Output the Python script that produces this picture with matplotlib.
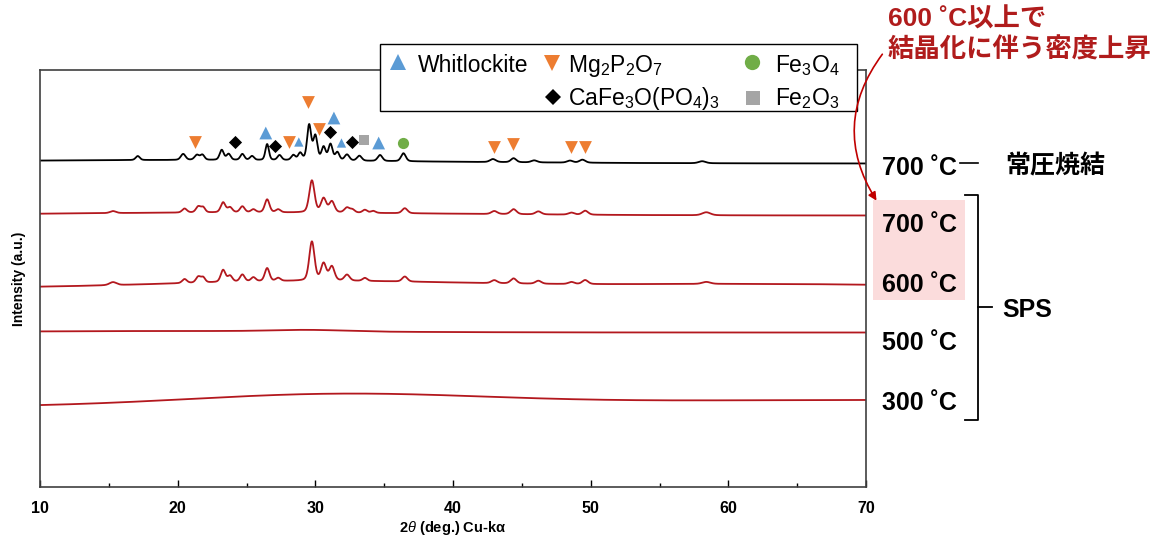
import numpy as np
import matplotlib
matplotlib.use('Agg')
import matplotlib.pyplot as plt
from matplotlib.lines import Line2D
from matplotlib.patches import Rectangle, FancyArrowPatch
from matplotlib.ticker import MultipleLocator

plt.rcParams['font.family'] = ['Liberation Sans', 'Noto Sans CJK JP', 'DejaVu Sans']
plt.rcParams['mathtext.fontset'] = 'custom'
plt.rcParams['mathtext.rm'] = 'Liberation Sans'
plt.rcParams['mathtext.it'] = 'Liberation Sans:italic'
plt.rcParams['mathtext.bf'] = 'Liberation Sans:bold'
plt.rcParams['mathtext.default'] = 'regular'

# XRD patterns, peaks as (2theta, height, fwhm), humps as (2theta, height, fwhm)
black_base = 323.5
black_humps = [(20, 3.5, 40)]
black_peaks = [(17.1, 4, 0.35), (20.4, 6, 0.4), (21.4, 5, 0.4), (21.8, 5, 0.35),
               (23.2, 10, 0.35), (23.7, 6, 0.35), (24.7, 6, 0.35), (25.4, 4, 0.35),
               (26.5, 16, 0.3), (27.4, 5, 0.35), (28.4, 5, 0.35), (28.9, 7, 0.35),
               (29.55, 35, 0.35), (30.0, 24, 0.35), (30.6, 13, 0.35), (31.1, 16, 0.35),
               (31.6, 8, 0.35), (32.3, 6, 0.4), (33.2, 5, 0.4), (34.7, 6, 0.4),
               (36.4, 8, 0.4), (42.9, 3, 0.5), (44.4, 4, 0.45), (45.9, 2, 0.5),
               (48.5, 2, 0.5), (49.4, 3, 0.5), (58.1, 2, 0.6)]

sps700_base = 271.5
sps700_humps = [(25, 3, 35)]
sps700_peaks = [(15.3, 2, 0.5), (20.5, 4, 0.4), (21.5, 6, 0.4), (21.85, 5, 0.35),
                (23.3, 10, 0.4), (23.8, 5, 0.4), (24.7, 6, 0.4), (25.5, 3, 0.4),
                (26.5, 13, 0.4), (27.3, 3, 0.4), (29.75, 32, 0.45), (30.6, 14, 0.45),
                (31.2, 11, 0.45), (32.3, 5, 0.45), (32.7, 3, 0.4), (33.6, 3, 0.4),
                (34.2, 2, 0.4), (36.5, 5, 0.45), (43.0, 3, 0.5), (44.4, 5, 0.5),
                (46.2, 3, 0.5), (48.6, 2, 0.5), (49.6, 4, 0.5), (58.4, 3, 0.7)]

sps600_base = 199
sps600_humps = [(30, 7, 26), (62, 4, 30)]
sps600_peaks = [(15.3, 3, 0.6), (20.5, 4, 0.4), (21.5, 6, 0.4), (21.85, 5, 0.35),
                (23.3, 12, 0.4), (23.8, 6, 0.4), (24.7, 7, 0.4), (25.5, 4, 0.4),
                (26.5, 13, 0.4), (27.3, 3, 0.4), (29.75, 39, 0.45), (30.6, 17, 0.45),
                (31.2, 14, 0.45), (32.3, 6, 0.45), (33.6, 3, 0.4), (36.5, 5, 0.45),
                (43.0, 3, 0.5), (44.4, 5, 0.5), (46.2, 3, 0.5), (48.6, 2, 0.5),
                (49.6, 4, 0.5), (58.4, 2, 0.7)]

sps500_base = 154.5
sps500_humps = [(20, 1.5, 30), (29.5, 1.5, 6)]
sps500_peaks = []

sps300_base = 80
sps300_humps = [(31.5, 12, 26), (70, 7, 50)]
sps300_peaks = []

# phase markers: (2theta, intensity)
whitlockite = [(26.4, 354), (28.8, 345), (31.35, 369), (31.9, 344), (34.6, 344)]
whitlockite_big = [True, False, True, False, True]
mg2p2o7 = [(21.25, 345), (28.1, 345), (29.5, 385), (30.3, 358),
           (43.0, 340), (44.35, 343), (48.55, 340), (49.6, 340)]
cafe3o = [(24.2, 345), (27.1, 341), (31.1, 355), (32.65, 345)]
fe2o3 = [(33.5, 347)]
fe3o4 = [(36.35, 344)]

phase_names = ['Whitlockite', r'Mg$_2$P$_2$O$_7$', r'CaFe$_3$O(PO$_4$)$_3$',
               r'Fe$_3$O$_4$', r'Fe$_2$O$_3$']
sample_labels = ['700 ˚C', '700 ˚C', '600 ˚C', '500 ˚C', '300 ˚C']

W, H = 1166, 552


def fx(px):
    return px / W


def fy(py):
    return 1 - py / H


def pv(x, pos, fwhm, eta=0.3):
    s = fwhm / 2.3548
    g = np.exp(-0.5 * ((x - pos) / s) ** 2)
    lo = 1 / (1 + ((x - pos) / (fwhm / 2)) ** 2)
    return (1 - eta) * g + eta * lo


def pattern(tt, base, humps, peaks):
    y = np.full_like(tt, float(base))
    for pos, h, w in humps:
        y += h * np.exp(-0.5 * ((tt - pos) / (w / 2.3548)) ** 2)
    for pos, h, w in peaks:
        y += h * pv(tt, pos, w)
    return y


tt = np.linspace(10, 70, 3001)

fig = plt.figure(figsize=(W / 100, H / 100), dpi=100)
ax = fig.add_axes([fx(40), fy(487), 826 / W, 417 / H])

red = '#b3181e'
ax.plot(tt, pattern(tt, sps300_base, sps300_humps, sps300_peaks), color=red, lw=1.3)
ax.plot(tt, pattern(tt, sps500_base, sps500_humps, sps500_peaks), color=red, lw=1.3)
ax.plot(tt, pattern(tt, sps600_base, sps600_humps, sps600_peaks), color=red, lw=1.3)
ax.plot(tt, pattern(tt, sps700_base, sps700_humps, sps700_peaks), color=red, lw=1.3)
ax.plot(tt, pattern(tt, black_base, black_humps, black_peaks), color='black', lw=1.3)

blue, orange, green, grey = '#5b9bd5', '#ed7d31', '#70ad47', '#a5a5a5'
wx, wy = zip(*whitlockite)
ax.scatter(wx, wy, marker='^', color=blue,
           s=[85 if b else 45 for b in whitlockite_big], zorder=4, linewidths=0)
mx, my = zip(*mg2p2o7)
ax.scatter(mx, my, marker='v', color=orange, s=85, zorder=4, linewidths=0)
cx, cy = zip(*cafe3o)
ax.scatter(cx, cy, marker='D', color='black', s=45, zorder=4, linewidths=0)
ax.scatter(*zip(*fe2o3), marker='s', color=grey, s=60, zorder=4, linewidths=0)
ax.scatter(*zip(*fe3o4), marker='o', color=green, s=65, zorder=4, linewidths=0)

ax.set_xlim(10, 70)
ax.set_ylim(0, 417)
ax.set_yticks([])
ax.set_xticks(range(10, 71, 10))
ax.xaxis.set_minor_locator(MultipleLocator(5))
ax.tick_params(axis='x', which='major', direction='in', length=5, width=1, pad=10)
ax.tick_params(axis='x', which='minor', direction='in', length=3, width=1)
for lab in ax.get_xticklabels():
    lab.set_fontfamily(['Liberation Sans Narrow', 'Liberation Sans'])
    lab.set_fontweight('bold')
    lab.set_fontsize(11.5)
for sp in ax.spines.values():
    sp.set_color('#404040')
    sp.set_linewidth(1.2)

ax.set_xlabel(r'2$\mathit{\theta}$ (deg.) Cu-k$\alpha$', fontsize=10.5, fontweight='bold',
              labelpad=2)
ax.set_ylabel('Intensity (a.u.)', fontsize=10, fontweight='bold', labelpad=10)

# legend box, drawn over the top spine
fig.add_artist(Rectangle((fx(380), fy(111)), 477 / W, 67 / H, transform=fig.transFigure,
                         facecolor='white', edgecolor='black', lw=1.0, zorder=5))
leg_marks = [('^', blue, 12, 398, 62), ('v', orange, 11, 552, 63),
             ('D', 'black', 8, 553, 97), ('o', green, 11, 752, 62),
             ('s', grey, 10, 753, 98)]
leg_text = [(418, 72), (568, 72), (568, 105), (775, 72), (775, 105)]
for (m, c, ms, x, y), name, (tx, ty) in zip(leg_marks, phase_names, leg_text):
    fig.add_artist(Line2D([fx(x)], [fy(y)], ls='none', marker=m, color=c, ms=ms, mew=0,
                          transform=fig.transFigure, zorder=6))
    fig.text(fx(tx), fy(ty), name, fontsize=16.5, va='baseline', zorder=6)

# pink highlight behind 700/600 SPS labels
fig.add_artist(Rectangle((fx(873), fy(300)), 92 / W, 100 / H, transform=fig.transFigure,
                         facecolor='#fbdcdc', edgecolor='none', zorder=0))

lab_y = [175, 232, 292, 350, 410]
for txt, y in zip(sample_labels, lab_y):
    fig.text(fx(882), fy(y), txt, fontsize=18, fontweight='bold', va='baseline')
fig.add_artist(Line2D([fx(960), fx(978)], [fy(163), fy(163)], color='black', lw=1.2))
fig.text(fx(1005), fy(173), '常圧焼結', fontsize=18, fontweight='bold', va='baseline')

# bracket for SPS samples
bk = dict(color='black', lw=1.3, transform=fig.transFigure)
fig.add_artist(Line2D([fx(965), fx(978), fx(978), fx(965)],
                      [fy(195), fy(195), fy(420), fy(420)], **bk))
fig.add_artist(Line2D([fx(978), fx(992)], [fy(307), fy(307)], **bk))
fig.text(fx(1002), fy(317), 'SPS', fontsize=18, fontweight='bold', va='baseline')

ann = '#b01c1c'
fig.text(fx(888), fy(27), '600 ˚C以上で', fontsize=19, fontweight='bold',
         color=ann, va='baseline')
fig.text(fx(888), fy(58), '結晶化に伴う密度上昇', fontsize=19, fontweight='bold',
         color=ann, va='baseline')
fig.add_artist(FancyArrowPatch((fx(884), fy(52)), (fx(878), fy(203)),
                               transform=fig.transFigure,
                               connectionstyle='arc3,rad=0.35', arrowstyle='-|>',
                               mutation_scale=12, color='#c00000', lw=1.2, zorder=7))

fig.savefig('out.png', dpi=100)
